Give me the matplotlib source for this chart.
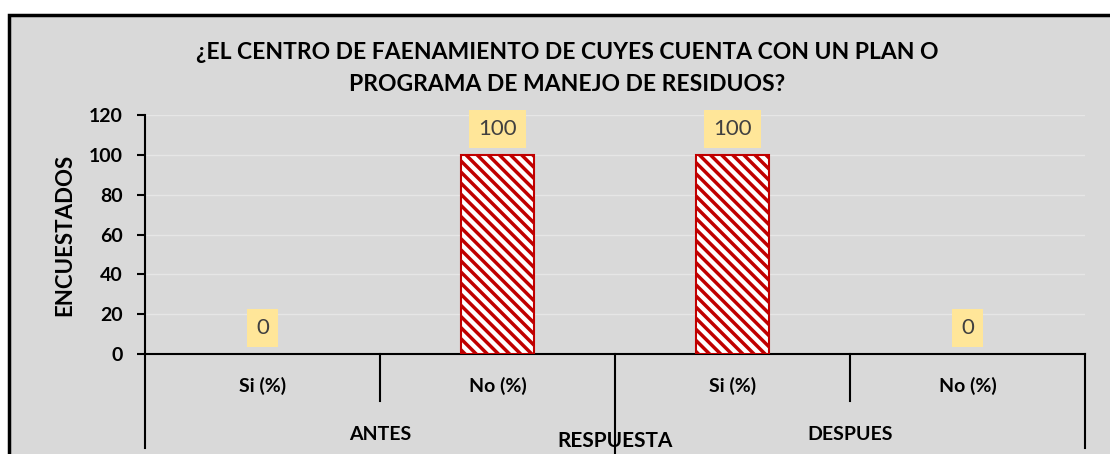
import matplotlib
matplotlib.use('Agg')
import matplotlib.pyplot as plt
from matplotlib.patches import Rectangle

# data
categorias = ["Si (%)", "No (%)", "Si (%)", "No (%)"]
grupos = ["ANTES", "DESPUES"]
valores = [0, 100, 100, 0]
yticks = [0, 20, 40, 60, 80, 100, 120]

plt.rcParams['font.family'] = ['Lato', 'DejaVu Sans']
plt.rcParams['hatch.linewidth'] = 2.5
plt.rcParams['hatch.color'] = '#C00000'

fig = plt.figure(figsize=(11.1, 4.54), dpi=100)
fig.patch.set_facecolor('white')
# gray chart area with black frame
bg = Rectangle((9/1110, -0.2), 1.2, 0.2 + (454-15)/454, transform=fig.transFigure,
               facecolor='#D9D9D9', edgecolor='black', linewidth=2.5, zorder=-10)
fig.add_artist(bg)

ax = fig.add_axes([145/1110, 100/454, 940/1110, 239/454])
ax.set_facecolor('none')
ax.set_zorder(1)

x = list(range(len(categorias)))
ax.bar(x, valores, width=0.31, color='white', edgecolor='#C00000', hatch='\\\\\\',
       linewidth=[1.5 if v > 0 else 0 for v in valores], zorder=3)

for xi, v in zip(x, valores):
    ax.text(xi, v + 13, str(v), ha='center', va='center', fontsize=16, color='#404040',
            bbox=dict(boxstyle='square,pad=0.4', facecolor='#FFE699', edgecolor='none'), zorder=4)

ax.set_xlim(-0.5, 3.5)
ax.set_ylim(0, 120)
ax.set_yticks(yticks)
ax.set_yticklabels([str(t) for t in yticks], fontsize=14, fontweight='bold')
ax.yaxis.grid(True, color='#E6E6E6', linewidth=1)
ax.set_axisbelow(True)
ax.tick_params(axis='y', direction='out', length=6, width=1.5, pad=10)
ax.set_xticks([])
for s in ['top', 'right']:
    ax.spines[s].set_visible(False)
ax.spines['left'].set_linewidth(1.5)
ax.spines['bottom'].set_linewidth(1.5)
ax.set_ylabel("ENCUESTADOS", fontsize=16, fontweight='bold', labelpad=10)

trans = ax.get_xaxis_transform()
# separators of the multi-level axis
for xs, ybot in [(-0.5, -0.393), (0.5, -0.197), (1.5, -0.418), (2.5, -0.197), (3.5, -0.393)]:
    ax.plot([xs, xs], [0, ybot], color='black', linewidth=1.5, transform=trans, clip_on=False)

for xi, c in zip(x, categorias):
    ax.text(xi, -0.134, c, ha='center', va='center', fontsize=14, fontweight='bold', transform=trans)
for gi, g in enumerate(grupos):
    ax.text(0.5 + 2*gi, -0.335, g, ha='center', va='center', fontsize=14, fontweight='bold', transform=trans)

fig.text(615/1110, (454-441)/454, "RESPUESTA", ha='center', va='center', fontsize=15, fontweight='bold', zorder=5)

fig.text(567/1110, (454-68.5)/454, "¿EL CENTRO DE FAENAMIENTO DE CUYES CUENTA CON UN PLAN O\nPROGRAMA DE MANEJO DE RESIDUOS?",
         ha='center', va='center', fontsize=16.5, fontweight='bold', linespacing=1.6)

fig.savefig('out.png', dpi=100)
